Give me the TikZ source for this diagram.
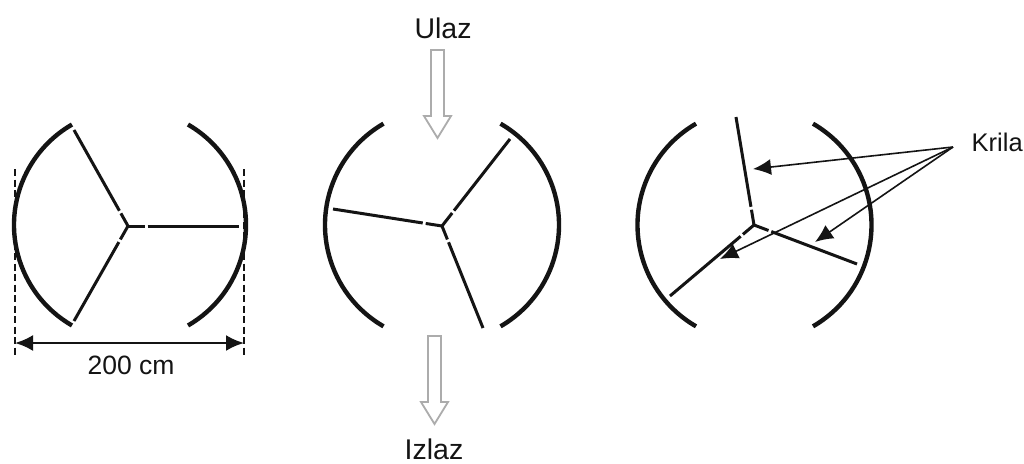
\documentclass[tikz,border=0pt]{standalone}
\usepackage{fontspec}
\setmainfont{Liberation Sans}
\usetikzlibrary{arrows.meta,calc}
\definecolor{ink}{HTML}{141414}
\definecolor{hollow}{HTML}{ACACAC}
\tikzset{
  shell/.style={draw=ink,line width=4.4pt},
  blade/.style={draw=ink,line width=3pt},
  flowarrow/.style={draw=hollow,line width=1.8pt,fill=white,line join=miter},
  pointer/.style={draw=ink,line width=1.6pt,-{Latex[length=18pt,width=16pt]}},
  dimline/.style={draw=ink,line width=2.4pt,{Latex[length=18pt,width=16pt]}-{Latex[length=18pt,width=16pt]}},
  guide/.style={draw=ink,line width=1.3pt,dash pattern=on 7pt off 3.5pt},
  label/.style={inner sep=0pt,text=ink},
}
% hub, tip, distance of the break from the hub
\newcommand{\rotorblade}[3]{%
  \draw[blade] (#1) -- ($(#1)!#3pt-1.5pt!(#2)$);
  \draw[blade] ($(#1)!#3pt+1.5pt!(#2)$) -- (#2);}
% x of shaft left, x of shaft right, y top, y shoulder, y tip
\newcommand{\hollowarrow}[5]{%
  \draw[flowarrow] (#1,#3) -- (#2,#3) -- (#2,#4) -- ({#2+7},#4)
    -- ({(#1+#2)/2},#5) -- ({#1-7},#4) -- (#1,#4) -- cycle;}
\newcommand{\rotorshell}[2]{%
  \draw[shell] ($(#1)+(120:#2)$) arc[start angle=120,end angle=240,radius=#2];
  \draw[shell] ($(#1)+(60:#2)$) arc[start angle=60,end angle=-60,radius=#2];}
\begin{document}
\begin{tikzpicture}[x=1pt,y=-1pt]
\useasboundingbox (0,0) rectangle (1024,463);
\fill[white] (0,0) rectangle (1024,463);

% left rotor
\coordinate (cA) at (130,225);
\coordinate (hA) at (128,226);
\coordinate (a1) at (74,130);
\coordinate (a2) at (74,321);
\coordinate (a3) at (239,226);
\rotorshell{cA}{116}
\rotorblade{hA}{a1}{16}
\rotorblade{hA}{a2}{17}
\rotorblade{hA}{a3}{18}
\coordinate (dL) at (15,169);
\coordinate (dLe) at (15,358);
\coordinate (dR) at (244,169);
\coordinate (dRe) at (244,358);
\draw[guide] (dL) -- (dLe);
\draw[guide] (dR) -- (dRe);
\coordinate (arL) at (15,343);
\coordinate (arR) at (244,343);
\draw[dimline] (arL) -- (arR);
\node[label,font=\fontsize{26.5pt}{30pt}\selectfont] (width) at (131,365) {200 cm};

% middle rotor
\coordinate (cB) at (442,225);
\coordinate (hB) at (442,226);
\coordinate (b1) at (510,139);
\coordinate (b2) at (333,209);
\coordinate (b3) at (483,328);
\rotorshell{cB}{117}
\rotorblade{hB}{b1}{18}
\rotorblade{hB}{b2}{18}
\rotorblade{hB}{b3}{16}
\hollowarrow{431}{444}{50}{116}{138}
\hollowarrow{428}{441}{336}{402}{424}
\node[label,font=\fontsize{28.5pt}{32pt}\selectfont] (ulaz) at (443,28) {Ulaz};
\node[label,font=\fontsize{28.5pt}{32pt}\selectfont] (izlaz) at (434,449) {Izlaz};

% right rotor
\coordinate (cC) at (754.5,225);
\coordinate (hC) at (754,225);
\coordinate (c1) at (736,117);
\coordinate (c2) at (670,296);
\coordinate (c3) at (857,264);
\rotorshell{cC}{117}
\rotorblade{hC}{c1}{17}
\rotorblade{hC}{c2}{16}
\rotorblade{hC}{c3}{17}
\node[label,font=\fontsize{25.5pt}{30pt}\selectfont,anchor=west] (krila) at (971.5,142) {Krila};
\coordinate (kr) at (953,147);
\coordinate (t1) at (753,169);
\coordinate (t2) at (720,259);
\coordinate (t3) at (815,242);
\draw[pointer] (kr) -- (t1);
\draw[pointer] (kr) -- (t2);
\draw[pointer] (kr) -- (t3);
\end{tikzpicture}
\end{document}
